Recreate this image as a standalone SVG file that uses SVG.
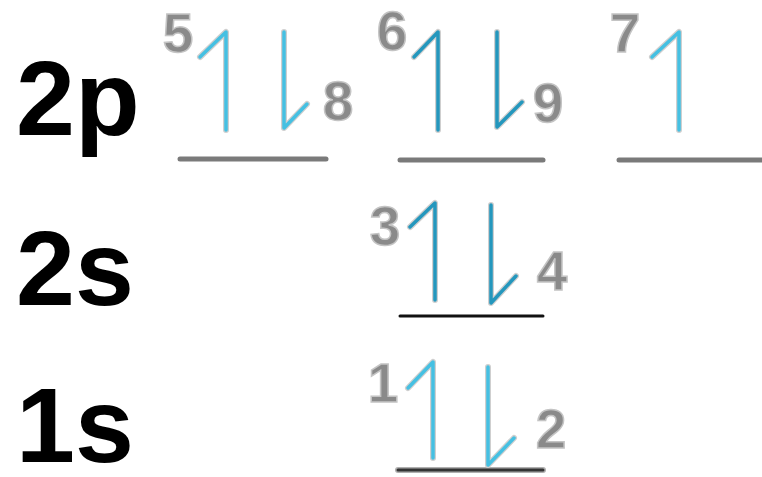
<svg xmlns="http://www.w3.org/2000/svg" width="762" height="477" viewBox="0 0 762 477">
<style>
.lbl{font-family:"Liberation Sans",Arial,sans-serif;font-weight:bold;font-size:106px;fill:#000}
.num{font-family:"Liberation Sans",Arial,sans-serif;font-weight:bold;font-size:55px;fill:#8a8a8a;stroke:#c4c4c4;stroke-width:1.5;text-anchor:middle}
.ol{fill:none;stroke:#cfcfcf;stroke-width:6;stroke-linecap:round;stroke-linejoin:round}
.a1{fill:none;stroke:#45c0e2;stroke-width:3.5;stroke-linecap:round;stroke-linejoin:round}
.a2{fill:none;stroke:#2497bd;stroke-width:3.5;stroke-linecap:round;stroke-linejoin:round}
.gl{stroke:#7a7a7a;stroke-width:5;stroke-linecap:round}
.bl{stroke:#111;stroke-width:3;stroke-linecap:round}
.dl{stroke:#b0b0b0;stroke-width:6;stroke-linecap:round}
.dl2{stroke:#333;stroke-width:3;stroke-linecap:round}
</style>
<g id="labels">
<text class="lbl" x="16" y="135">2p</text>
<text class="lbl" x="16" y="305">2s</text>
<text class="lbl" x="16" y="462">1s</text>
</g>
<g id="orb-2p-1">
<line class="gl" x1="180" y1="159" x2="326" y2="159"/>
<path class="ol" d="M200,57 L226,32 L226,130"/>
<path class="a1" d="M200,57 L226,32 L226,130"/>
<path class="ol" d="M284,32 L284,128 L307,104"/>
<path class="a1" d="M284,32 L284,128 L307,104"/>
<text class="num" x="178" y="52">5</text>
<text class="num" x="338" y="120">8</text>
</g>
<g id="orb-2p-2">
<line class="gl" x1="400" y1="160" x2="543" y2="160"/>
<path class="ol" d="M414,57 L438,32 L438,130"/>
<path class="a2" d="M414,57 L438,32 L438,130"/>
<path class="ol" d="M497,32 L497,127 L522,102"/>
<path class="a2" d="M497,32 L497,127 L522,102"/>
<text class="num" x="392" y="50">6</text>
<text class="num" x="548" y="122">9</text>
</g>
<g id="orb-2p-3">
<line class="gl" x1="619" y1="160" x2="764" y2="160"/>
<path class="ol" d="M652,57 L679,32 L679,130"/>
<path class="a1" d="M652,57 L679,32 L679,130"/>
<text class="num" x="625" y="52">7</text>
</g>
<g id="orb-2s">
<line class="bl" x1="400" y1="316" x2="543" y2="316"/>
<path class="ol" d="M410,227 L435,203 L435,300"/>
<path class="a2" d="M410,227 L435,203 L435,300"/>
<path class="ol" d="M491,205 L491,303 L516,276"/>
<path class="a2" d="M491,205 L491,303 L516,276"/>
<text class="num" x="385" y="245">3</text>
<text class="num" x="552" y="290">4</text>
</g>
<g id="orb-1s">
<line class="dl" x1="398" y1="470" x2="543" y2="470"/>
<line class="dl2" x1="398" y1="470" x2="543" y2="470"/>
<path class="ol" d="M408,388 L433,362 L433,458"/>
<path class="a1" d="M408,388 L433,362 L433,458"/>
<path class="ol" d="M488,367 L488,465 L514,438"/>
<path class="a1" d="M488,367 L488,465 L514,438"/>
<text class="num" x="383" y="402">1</text>
<text class="num" x="551" y="448">2</text>
</g>
</svg>
